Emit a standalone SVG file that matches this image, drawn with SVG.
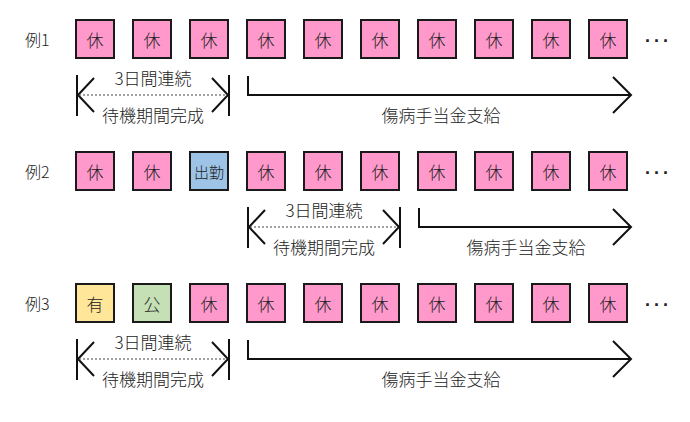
<svg xmlns="http://www.w3.org/2000/svg" width="690" height="422" viewBox="0 0 690 422">
<defs>
<style>
text{font-family:"Noto Sans CJK JP","Noto Sans",sans-serif;fill:#222;font-weight:300}
.b{stroke:#1a1a1a;stroke-width:2}
.k{fill:#ff99cc}
.blue{fill:#9dc3e6}
.yel{fill:#ffe699}
.grn{fill:#c5e0b4}
.bl{font-size:17px;text-anchor:middle;dominant-baseline:central}
.lab{font-size:16px;dominant-baseline:central}
.t{font-size:17px;text-anchor:middle}
.ln{fill:none;stroke:#111;stroke-width:2}
.dot{fill:none;stroke:#444;stroke-width:1;stroke-dasharray:2 2}
.dots{font-size:18px;font-family:"Liberation Sans",sans-serif;font-weight:bold;letter-spacing:4px}
</style>
<g id="bracket">
<path class="ln" d="M77,75V116M229,75V116M94,78L78,95L94,112M212,78L228,95L212,112"/>
<path class="dot" d="M79,95H227"/>
<text class="t" x="153" y="85">3日間連続</text>
<text class="t" x="153" y="121.5">待機期間完成</text>
</g>
<g id="pay">
<path class="ln" d="M248,76V95H631M613,77L631,95L613,113"/>
</g>
</defs>

<g id="row1">
<text class="lab" x="25" y="39">例1</text>
<g id="r1b1"><rect class="b k" x="76" y="20" width="38" height="38"/><text class="bl" x="95" y="39">休</text></g>
<g id="r1b2"><rect class="b k" x="133" y="20" width="38" height="38"/><text class="bl" x="152" y="39">休</text></g>
<g id="r1b3"><rect class="b k" x="190" y="20" width="38" height="38"/><text class="bl" x="209" y="39">休</text></g>
<g id="r1b4"><rect class="b k" x="247" y="20" width="38" height="38"/><text class="bl" x="266" y="39">休</text></g>
<g id="r1b5"><rect class="b k" x="304" y="20" width="38" height="38"/><text class="bl" x="323" y="39">休</text></g>
<g id="r1b6"><rect class="b k" x="361" y="20" width="38" height="38"/><text class="bl" x="380" y="39">休</text></g>
<g id="r1b7"><rect class="b k" x="418" y="20" width="38" height="38"/><text class="bl" x="437" y="39">休</text></g>
<g id="r1b8"><rect class="b k" x="475" y="20" width="38" height="38"/><text class="bl" x="494" y="39">休</text></g>
<g id="r1b9"><rect class="b k" x="532" y="20" width="38" height="38"/><text class="bl" x="551" y="39">休</text></g>
<g id="r1b10"><rect class="b k" x="589" y="20" width="38" height="38"/><text class="bl" x="608" y="39">休</text></g>
<text class="dots" x="645" y="42">...</text>
</g>

<g id="row2">
<text class="lab" x="25" y="171">例2</text>
<g id="r2b1"><rect class="b k" x="76" y="152" width="38" height="38"/><text class="bl" x="95" y="171">休</text></g>
<g id="r2b2"><rect class="b k" x="133" y="152" width="38" height="38"/><text class="bl" x="152" y="171">休</text></g>
<g id="r2b3"><rect class="b blue" x="190" y="152" width="38" height="38"/><text class="bl" x="209" y="171" style="font-size:15px">出勤</text></g>
<g id="r2b4"><rect class="b k" x="247" y="152" width="38" height="38"/><text class="bl" x="266" y="171">休</text></g>
<g id="r2b5"><rect class="b k" x="304" y="152" width="38" height="38"/><text class="bl" x="323" y="171">休</text></g>
<g id="r2b6"><rect class="b k" x="361" y="152" width="38" height="38"/><text class="bl" x="380" y="171">休</text></g>
<g id="r2b7"><rect class="b k" x="418" y="152" width="38" height="38"/><text class="bl" x="437" y="171">休</text></g>
<g id="r2b8"><rect class="b k" x="475" y="152" width="38" height="38"/><text class="bl" x="494" y="171">休</text></g>
<g id="r2b9"><rect class="b k" x="532" y="152" width="38" height="38"/><text class="bl" x="551" y="171">休</text></g>
<g id="r2b10"><rect class="b k" x="589" y="152" width="38" height="38"/><text class="bl" x="608" y="171">休</text></g>
<text class="dots" x="645" y="174">...</text>
</g>

<g id="row3">
<text class="lab" x="25" y="303">例3</text>
<g id="r3b1"><rect class="b yel" x="76" y="284" width="38" height="38"/><text class="bl" x="95" y="303">有</text></g>
<g id="r3b2"><rect class="b grn" x="133" y="284" width="38" height="38"/><text class="bl" x="152" y="303">公</text></g>
<g id="r3b3"><rect class="b k" x="190" y="284" width="38" height="38"/><text class="bl" x="209" y="303">休</text></g>
<g id="r3b4"><rect class="b k" x="247" y="284" width="38" height="38"/><text class="bl" x="266" y="303">休</text></g>
<g id="r3b5"><rect class="b k" x="304" y="284" width="38" height="38"/><text class="bl" x="323" y="303">休</text></g>
<g id="r3b6"><rect class="b k" x="361" y="284" width="38" height="38"/><text class="bl" x="380" y="303">休</text></g>
<g id="r3b7"><rect class="b k" x="418" y="284" width="38" height="38"/><text class="bl" x="437" y="303">休</text></g>
<g id="r3b8"><rect class="b k" x="475" y="284" width="38" height="38"/><text class="bl" x="494" y="303">休</text></g>
<g id="r3b9"><rect class="b k" x="532" y="284" width="38" height="38"/><text class="bl" x="551" y="303">休</text></g>
<g id="r3b10"><rect class="b k" x="589" y="284" width="38" height="38"/><text class="bl" x="608" y="303">休</text></g>
<text class="dots" x="645" y="306">...</text>
</g>

<g id="connectors">
<use href="#bracket"/>
<use href="#pay"/>
<text class="t" x="441" y="121.5">傷病手当金支給</text>
<use href="#bracket" transform="translate(171,132)"/>
<path class="ln" d="M419,208V227H631M613,209L631,227L613,245"/>
<text class="t" x="526" y="253.5">傷病手当金支給</text>
<use href="#bracket" transform="translate(0,264)"/>
<use href="#pay" transform="translate(0,264)"/>
<text class="t" x="441" y="385.5">傷病手当金支給</text>
</g>
</svg>
